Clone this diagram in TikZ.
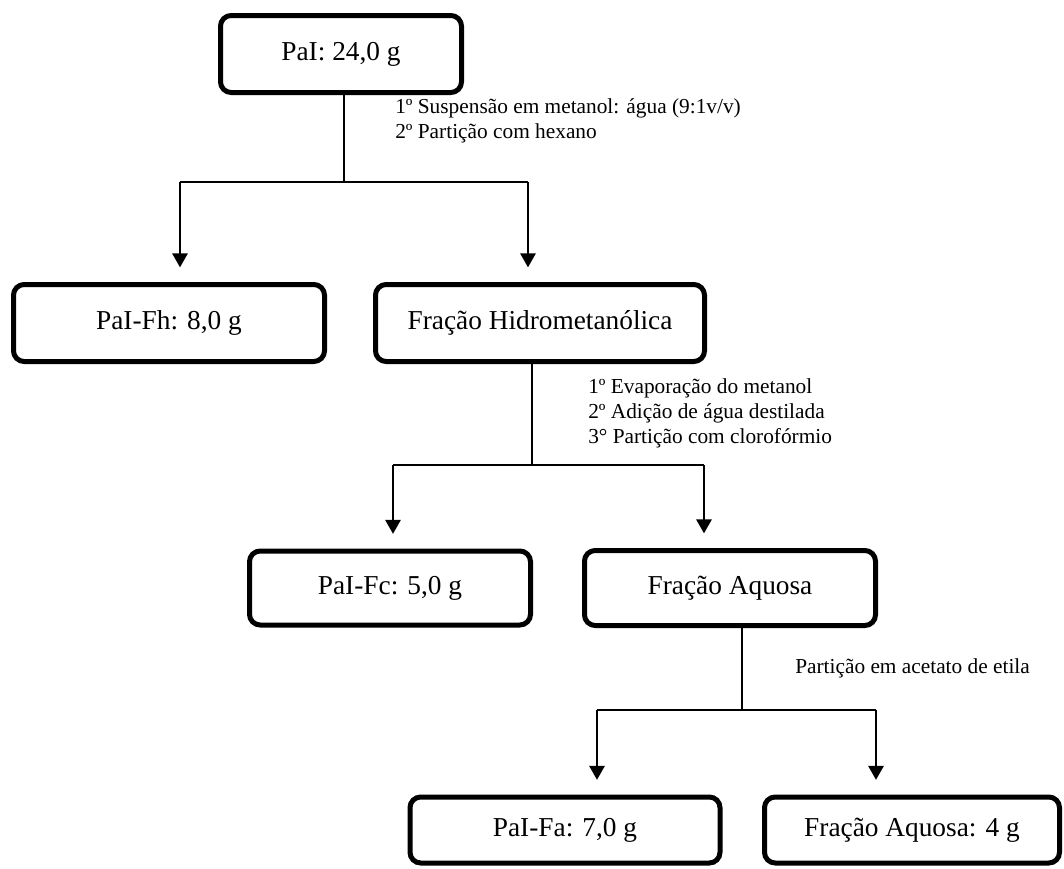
\documentclass[tikz,border=0pt]{standalone}
\usepackage{fontspec}
\setmainfont{Liberation Serif}
\usetikzlibrary{arrows.meta}

\newcommand{\caixa}[6]{
\node[caixa, minimum width=#4*0.75pt, minimum height=#5*0.75pt] (#1) at (#2, #3) {#6};
}
\newcommand{\ramo}[7]{
\coordinate (#1-j) at (#2, #3);
\coordinate (#1-e) at (#4, #3);
\coordinate (#1-d) at (#5, #3);
\draw[haste] (#1.south -| #1-j) -- (#1-j);
\draw[galho] (#1-e) -- (#1-d);
\draw[seta] (#1-e) -- (#1-e |- #6.north);
\draw[seta] (#1-d) -- (#1-d |- #7.north);
}

\begin{document}
\begin{tikzpicture}[x=0.75pt, y=-0.75pt,
  caixa/.style={draw, line width=3.75pt, rounded corners=8pt, inner sep=0pt,
    font=\fontsize{20.5}{24}\selectfont},
  haste/.style={line width=1pt},
  galho/.style={line width=1.5pt},
  seta/.style={line width=1.5pt, -{Triangle[length=10.5pt, width=11.5pt]}, shorten >=11pt},
  nota/.style={anchor=west, align=left, inner sep=0pt,
    font=\fontsize{16}{18.75}\selectfont}]
\useasboundingbox (0, 0) rectangle (1064, 868);

\caixa{pai}{341}{54}{241}{77}{PaI: 24,0 g}
\caixa{fh}{169}{323}{311}{77}{PaI-Fh: 8,0 g}
\caixa{hidro}{540}{323}{329}{77}{Fração Hidrometanólica}
\caixa{fc}{390}{588}{281}{74}{PaI-Fc: 5,0 g}
\caixa{aq}{730}{588}{291}{75}{Fração Aquosa}
\caixa{fa}{565}{830}{310}{66}{PaI-Fa: 7,0 g}
\caixa{aqf}{912}{830}{295}{66}{Fração Aquosa: 4 g}

\ramo{pai}{344}{182}{180}{528}{fh}{hidro}
\ramo{hidro}{532}{465}{393}{704}{fc}{aq}
\ramo{aq}{742}{710}{597}{876}{fa}{aqf}

\node[nota] (n1) at (395, 121) {1º Suspensão em metanol: água (9:1v/v)\\2º Partição com hexano};
\node[nota] (n2) at (588, 413) {1º Evaporação do metanol\\2º Adição de água destilada\\3° Partição com clorofórmio};
\node[nota] (n3) at (795, 668) {Partição em acetato de etila};
% \draw[help lines, step=50] (0,0) grid (1064,868);
\end{tikzpicture}
\end{document}
